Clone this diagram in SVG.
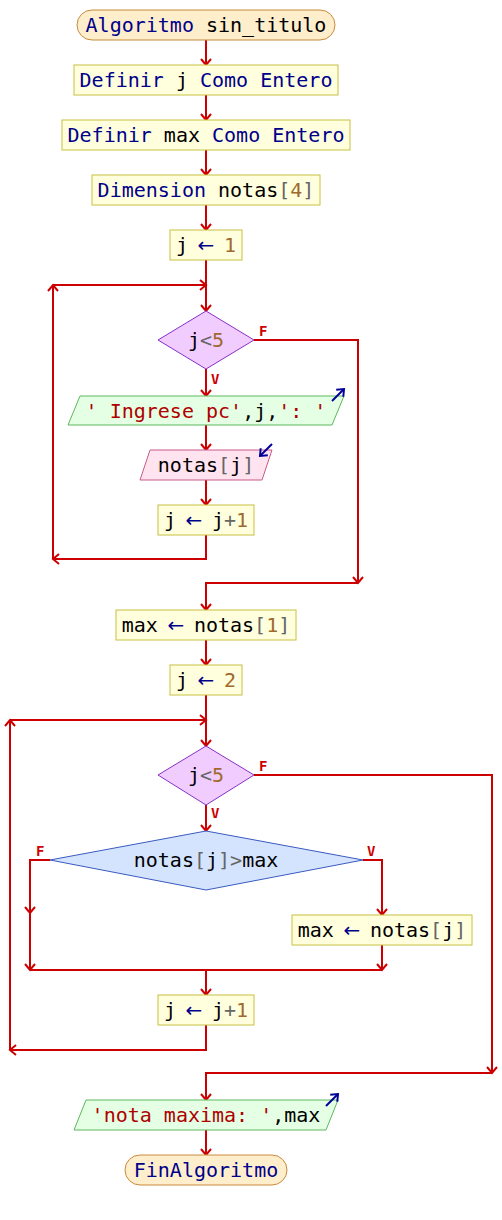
<svg xmlns="http://www.w3.org/2000/svg" width="502" height="1220" viewBox="0 0 502 1220">
<defs>
<marker id="ah" markerUnits="userSpaceOnUse" markerWidth="14" markerHeight="14" viewBox="-8 -7 10 14" refX="0" refY="0" orient="auto">
<path d="M-6,-5 L0,0 L-6,5" fill="none" stroke="#cc0000" stroke-width="2"/>
</marker>
<marker id="bh" markerUnits="userSpaceOnUse" markerWidth="14" markerHeight="14" viewBox="-8 -7 10 14" refX="0" refY="0" orient="auto">
<path d="M-6,-5 L0,0 L-6,5" fill="none" stroke="#000099" stroke-width="2"/>
</marker>
<style>
.t{font-family:"DejaVu Sans Mono","Liberation Mono",monospace;font-size:20px;text-anchor:middle;fill:#000}
.k{fill:#00008b}
.a{fill:#00008b;font-family:"DejaVu Sans",sans-serif}
.g{fill:#666666}
.n{fill:#a0692d}
.s{fill:#b00000}
.lbl{font-family:"DejaVu Sans Mono",monospace;font-size:14px;font-weight:bold;fill:#cc0000}
.term{fill:#ffeecc;stroke:#c88a3a;stroke-width:1}
.box{fill:#ffffdd;stroke:#c8c040;stroke-width:1}
.dec{fill:#f0ccff;stroke:#8a2fc8;stroke-width:1}
.dec2{fill:#d4e4ff;stroke:#3a5ac0;stroke-width:1}
.out{fill:#e4ffe4;stroke:#5cb85c;stroke-width:1}
.inp{fill:#ffe4f0;stroke:#c85a8a;stroke-width:1}
.c path,.c line{fill:none;stroke:#cc0000;stroke-width:2}
.io{stroke:#000099;stroke-width:2;fill:none}
</style>
</defs>
<rect width="502" height="1220" fill="#ffffff"/>

<g class="c" id="connectors">
<line x1="206" y1="40" x2="206" y2="65" marker-end="url(#ah)"/>
<line x1="206" y1="95" x2="206" y2="120" marker-end="url(#ah)"/>
<line x1="206" y1="150" x2="206" y2="175" marker-end="url(#ah)"/>
<line x1="206" y1="205" x2="206" y2="230" marker-end="url(#ah)"/>
<line x1="206" y1="260" x2="206" y2="311" marker-end="url(#ah)"/>
<line x1="206" y1="369" x2="206" y2="396" marker-end="url(#ah)"/>
<line x1="206" y1="425" x2="206" y2="450" marker-end="url(#ah)"/>
<line x1="206" y1="480" x2="206" y2="505" marker-end="url(#ah)"/>
<path d="M206,535 V559 H53" marker-end="url(#ah)"/>
<path d="M53,559 V285" marker-end="url(#ah)"/>
<path d="M53,285 H206" marker-end="url(#ah)"/>
<path d="M254,340 H358 V583" marker-end="url(#ah)"/>
<path d="M358,583 H206 V610" marker-end="url(#ah)"/>
<line x1="206" y1="640" x2="206" y2="665" marker-end="url(#ah)"/>
<line x1="206" y1="695" x2="206" y2="746" marker-end="url(#ah)"/>
<line x1="206" y1="805" x2="206" y2="831" marker-end="url(#ah)"/>
<path d="M50,860 H30 V913" marker-end="url(#ah)"/>
<path d="M30,913 V970" marker-end="url(#ah)"/>
<path d="M363,860 H382 V915" marker-end="url(#ah)"/>
<line x1="382" y1="945" x2="382" y2="970" marker-end="url(#ah)"/>
<path d="M30,970 H382"/>
<line x1="206" y1="970" x2="206" y2="995" marker-end="url(#ah)"/>
<path d="M206,1025 V1050 H10" marker-end="url(#ah)"/>
<path d="M10,1050 V720" marker-end="url(#ah)"/>
<path d="M10,720 H206" marker-end="url(#ah)"/>
<path d="M254,775 H492 V1073" marker-end="url(#ah)"/>
<path d="M492,1073 H206 V1100" marker-end="url(#ah)"/>
<line x1="206" y1="1130" x2="206" y2="1155" marker-end="url(#ah)"/>
</g>

<g id="labels">
<text class="lbl" x="259" y="336">F</text>
<text class="lbl" x="211" y="384">V</text>
<text class="lbl" x="259" y="771">F</text>
<text class="lbl" x="211" y="818">V</text>
<text class="lbl" x="36" y="856">F</text>
<text class="lbl" x="367" y="856">V</text>
</g>

<g id="start">
<rect class="term" x="77" y="10" width="258" height="30" rx="15"/>
<text class="t" x="206" y="32"><tspan class="k">Algoritmo</tspan> sin_titulo</text>
</g>
<g id="def_j">
<rect class="box" x="74" y="65" width="264" height="30"/>
<text class="t" x="206" y="87"><tspan class="k">Definir</tspan> j <tspan class="k">Como Entero</tspan></text>
</g>
<g id="def_max">
<rect class="box" x="62" y="120" width="288" height="30"/>
<text class="t" x="206" y="142"><tspan class="k">Definir</tspan> max <tspan class="k">Como Entero</tspan></text>
</g>
<g id="dim">
<rect class="box" x="92" y="175" width="228" height="30"/>
<text class="t" x="206" y="197"><tspan class="k">Dimension</tspan> notas<tspan class="g">[</tspan><tspan class="n">4</tspan><tspan class="g">]</tspan></text>
</g>
<g id="j1">
<rect class="box" x="170" y="230" width="72" height="30"/>
<text class="t" x="206" y="252">j <tspan class="a" dx="-2.4">←</tspan><tspan dx="-2.4"> </tspan><tspan class="n">1</tspan></text>
</g>
<g id="cond1">
<polygon class="dec" points="206,311 254,340 206,369 158,340"/>
<text class="t" x="206" y="347">j<tspan class="g">&lt;</tspan><tspan class="n">5</tspan></text>
</g>
<g id="out1">
<polygon class="out" points="80,396 344,396 332,425 68,425"/>
<text class="t" x="206" y="418"><tspan class="s">' Ingrese pc'</tspan>,j,<tspan class="s">': '</tspan></text>
<line class="io" x1="332" y1="401" x2="344" y2="389" marker-end="url(#bh)"/>
</g>
<g id="in1">
<polygon class="inp" points="150,450 272,450 262,480 140,480"/>
<text class="t" x="206" y="472">notas<tspan class="g">[</tspan>j<tspan class="g">]</tspan></text>
<line class="io" x1="272" y1="444" x2="260" y2="456" marker-end="url(#bh)"/>
</g>
<g id="inc1">
<rect class="box" x="158" y="505" width="96" height="30"/>
<text class="t" x="206" y="527">j <tspan class="a" dx="-2.4">←</tspan><tspan dx="-2.4"> j</tspan><tspan class="g">+</tspan><tspan class="n">1</tspan></text>
</g>
<g id="maxinit">
<rect class="box" x="116" y="610" width="180" height="30"/>
<text class="t" x="206" y="632">max <tspan class="a" dx="-2.4">←</tspan><tspan dx="-2.4"> notas</tspan><tspan class="g">[</tspan><tspan class="n">1</tspan><tspan class="g">]</tspan></text>
</g>
<g id="j2">
<rect class="box" x="170" y="665" width="72" height="30"/>
<text class="t" x="206" y="687">j <tspan class="a" dx="-2.4">←</tspan><tspan dx="-2.4"> </tspan><tspan class="n">2</tspan></text>
</g>
<g id="cond2">
<polygon class="dec" points="206,746 254,775 206,805 158,775"/>
<text class="t" x="206" y="782">j<tspan class="g">&lt;</tspan><tspan class="n">5</tspan></text>
</g>
<g id="cond3">
<polygon class="dec2" points="206,831 363,860 206,890 50,860"/>
<text class="t" x="206" y="867">notas<tspan class="g">[</tspan>j<tspan class="g">]&gt;</tspan>max</text>
</g>
<g id="maxset">
<rect class="box" x="292" y="915" width="180" height="30"/>
<text class="t" x="382" y="937">max <tspan class="a" dx="-2.4">←</tspan><tspan dx="-2.4"> notas</tspan><tspan class="g">[</tspan>j<tspan class="g">]</tspan></text>
</g>
<g id="inc2">
<rect class="box" x="158" y="995" width="96" height="30"/>
<text class="t" x="206" y="1017">j <tspan class="a" dx="-2.4">←</tspan><tspan dx="-2.4"> j</tspan><tspan class="g">+</tspan><tspan class="n">1</tspan></text>
</g>
<g id="out2">
<polygon class="out" points="86,1100 338,1100 326,1130 74,1130"/>
<text class="t" x="206" y="1122"><tspan class="s">'nota maxima: '</tspan>,max</text>
<line class="io" x1="326" y1="1106" x2="338" y2="1094" marker-end="url(#bh)"/>
</g>
<g id="end">
<rect class="term" x="125" y="1155" width="162" height="30" rx="15"/>
<text class="t" x="206" y="1177"><tspan class="k">FinAlgoritmo</tspan></text>
</g>
</svg>
